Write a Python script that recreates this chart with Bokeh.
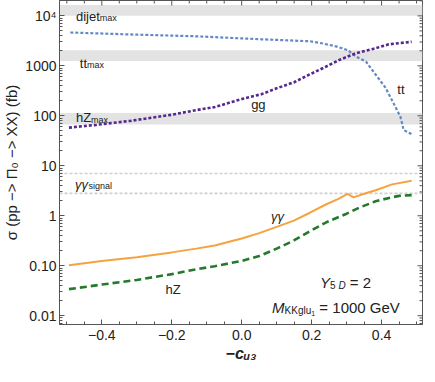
import math
from bokeh.plotting import figure
from bokeh.models import Range1d, FixedTicker, BoxAnnotation, Span, Label
from bokeh.embed import file_html
from bokeh.resources import INLINE

# ---------------- data ----------------
tt_x = [-0.49, -0.32, -0.13, 0.056, 0.196, 0.233, 0.27, 0.303, 0.327, 0.355, 0.383,
        0.411, 0.435, 0.454, 0.463, 0.486]
tt_y = [4650, 4250, 3900, 3400, 3100, 2790, 2450, 2065, 1535, 1225, 670,
        367, 174, 95, 52, 43]

gg_x = [-0.494, -0.415, -0.32, -0.2, -0.13, -0.076, 0.0, 0.056, 0.1, 0.15, 0.19,
        0.233, 0.28, 0.326, 0.374, 0.42, 0.486]
gg_y = [58, 66, 79, 105, 130, 150, 217, 270, 355, 470, 650,
        906, 1320, 1780, 2160, 2690, 3030]

aa_x = [-0.494, -0.4, -0.3, -0.2, -0.13, -0.077, 0.0, 0.05, 0.1, 0.149, 0.195,
        0.242, 0.275, 0.303, 0.32, 0.35, 0.383, 0.43, 0.486]
aa_y = [0.102, 0.125, 0.148, 0.185, 0.22, 0.255, 0.35, 0.45, 0.6, 0.8, 1.15,
        1.70, 2.16, 2.75, 2.33, 2.75, 3.24, 4.25, 5.0]

hz_x = [-0.494, -0.4, -0.3, -0.2, -0.13, -0.077, 0.0, 0.05, 0.1, 0.149, 0.195,
        0.242, 0.3, 0.336, 0.383, 0.43, 0.45, 0.486]
hz_y = [0.034, 0.042, 0.052, 0.068, 0.085, 0.098, 0.125, 0.156, 0.22, 0.32, 0.49,
        0.74, 1.1, 1.45, 1.95, 2.35, 2.5, 2.59]

band_bottom = [10000, 1250, 67]      # dijet_max, tt_max, hZ_max
band_top = [16500, 2050, 114]
signal_lines = [7.0, 2.8]            # gamma gamma signal band

y_ticks = [0.01, 0.1, 1, 10, 100, 1000, 10000]
y_tick_labels = ["0.01", "0.10", "1", "10", "100", "1000", "10\u2074"]
y_minor = [m * 10.0 ** e for e in range(-3, 5) for m in range(2, 10)]
x_ticks = [-0.4, -0.2, 0.0, 0.2, 0.4]
x_tick_labels = ["\u22120.4", "\u22120.2", "0.0", "0.2", "0.4"]
x_minor = [-0.5, -0.45, -0.35, -0.3, -0.25, -0.15, -0.1, -0.05, 0.05, 0.1, 0.15,
           0.25, 0.3, 0.35, 0.45, 0.5]

FONT = "Liberation Sans"
AX = "#555555"

x_lo, x_hi = -0.521, 0.517
y_lo, y_hi = 0.00667, 20300

p = figure(width=419, height=366, frame_width=363, frame_height=324,
           x_range=Range1d(x_lo, x_hi), y_range=Range1d(y_lo, y_hi),
           y_axis_type="log", output_backend="svg", toolbar_location=None,
           min_border_left=54, min_border_right=2, min_border_top=0, min_border_bottom=42)
p.grid.visible = False
p.outline_line_color = AX
p.background_fill_color = "white"
p.border_fill_color = "white"


def style_axis(ax, ticks, minor, labels):
    ax.ticker = FixedTicker(ticks=ticks, minor_ticks=minor)
    ax.major_tick_in = 5
    ax.major_tick_out = 0
    ax.minor_tick_in = 3
    ax.minor_tick_out = 0
    ax.axis_line_color = AX
    ax.major_tick_line_color = AX
    ax.minor_tick_line_color = AX
    ax.major_label_overrides = dict(zip(ticks, labels))
    ax.major_label_text_font = FONT
    ax.major_label_text_font_size = "14px"
    ax.major_label_text_color = "#222222"


xb = p.below[0]
style_axis(xb, x_ticks, x_minor, x_tick_labels)
xb.major_label_standoff = 5
xb.axis_label = "\u2212c\u1d64\u2083"
xb.axis_label_text_font = FONT
xb.axis_label_text_font_size = "16px"
xb.axis_label_text_font_style = "bold italic"
xb.axis_label_text_color = "#222222"
xb.axis_label_standoff = 2

yl = p.left[0]
style_axis(yl, y_ticks, y_minor, y_tick_labels)
yl.major_label_standoff = 3
yl.axis_label = "\u03c3 (pp \u2212> \u03a0\u2080 \u2212> XX) (fb)"
yl.axis_label_text_font = FONT
yl.axis_label_text_font_size = "15px"
yl.axis_label_text_font_style = "normal"
yl.axis_label_text_color = "#222222"
yl.axis_label_standoff = 2

# ticks on the top and right frame edges (inward), drawn as short screen-length rays
x_minor_in = [v for v in x_minor if x_lo < v < x_hi]
y_minor_in = [v for v in y_minor if y_lo < v < y_hi]
p.ray(x=x_ticks, y=[y_hi] * len(x_ticks), length=5, angle=-math.pi / 2,
      length_units="screen", line_color=AX, line_width=1)
p.ray(x=x_minor_in, y=[y_hi] * len(x_minor_in), length=3, angle=-math.pi / 2,
      length_units="screen", line_color=AX, line_width=1)
p.ray(x=[x_hi] * len(y_ticks), y=y_ticks, length=5, angle=math.pi,
      length_units="screen", line_color=AX, line_width=1)
p.ray(x=[x_hi] * len(y_minor_in), y=y_minor_in, length=3, angle=math.pi,
      length_units="screen", line_color=AX, line_width=1)

# grey bands and signal lines
for b, t in zip(band_bottom, band_top):
    p.add_layout(BoxAnnotation(bottom=b, top=t, fill_color="#e3e3e3", fill_alpha=1.0,
                               line_alpha=0, level="underlay"))
for s in signal_lines:
    p.add_layout(Span(location=s, dimension="width", line_color="#cfcfcf",
                      line_width=1.6, line_dash="3 2", level="underlay"))

# curves
p.line(tt_x, tt_y, line_color="#6289c6", line_width=2.2, line_dash="3 2")
p.line(gg_x, gg_y, line_color="#55278f", line_width=2.6, line_dash="3 2")
p.line(aa_x, aa_y, line_color="#f6a23e", line_width=2.0)
p.line(hz_x, hz_y, line_color="#25792a", line_width=2.6, line_dash="7 4")

# ---------------- texts ----------------
WID = {"a": 556, "b": 556, "c": 500, "d": 556, "e": 556, "g": 556, "h": 556, "i": 222,
       "j": 222, "k": 500, "l": 222, "m": 833, "n": 556, "s": 500, "t": 278, "u": 556,
       "x": 500, "K": 667, "M": 833, "G": 778, "V": 667, "Y": 667, "Z": 611, "D": 722,
       " ": 278, "=": 584, "\u2212": 584, "\u03b3": 520}


def tw(s, size):
    return sum(WID.get(ch, 556) for ch in s) * size / 1000.0


def rich(x, y, parts):
    dx = 0.0
    for text, size, style, dy in parts:
        lead = len(text) - len(text.lstrip(" "))
        dx += tw(" " * lead, size)
        text = text.strip(" ")
        if text:
            p.add_layout(Label(x=x, y=y, x_offset=dx, y_offset=dy, text=text,
                               text_font=FONT, text_font_size=f"{size}px",
                               text_font_style=style, text_color="#222222",
                               text_align="left", text_baseline="alphabetic"))
        dx += tw(text, size)


rich(-0.474, 9800, [("dijet", 13, "normal", 0), ("max", 9, "normal", -2)])
rich(-0.463, 1135, [("tt", 13, "normal", 0), ("max", 9, "normal", -2)])
rich(-0.474, 91, [("hZ", 13, "normal", 0), ("max", 9, "normal", -2)])
rich(-0.477, 4.25, [("\u03b3\u03b3", 13, "italic", 0), ("signal", 9, "normal", -2)])
rich(0.027, 171, [("gg", 13, "normal", 0)])
rich(0.445, 336, [("tt", 13, "normal", 0)])
rich(0.084, 0.96, [("\u03b3\u03b3", 13, "italic", 0)])
rich(-0.218, 0.0327, [("hZ", 13, "normal", 0)])
rich(0.224, 0.0468, [("Y", 15, "italic", 0), ("5", 10, "normal", -3),
                     (" D", 10, "italic", -3), (" = 2", 15, "normal", 0)])
rich(0.087, 0.0145, [("M", 15, "italic", 0), ("KKglu", 10, "normal", -3),
                     ("1", 7, "normal", -6), (" = 1000 GeV", 15, "normal", 0)])

open("out.html", "w").write(file_html(p, INLINE))
